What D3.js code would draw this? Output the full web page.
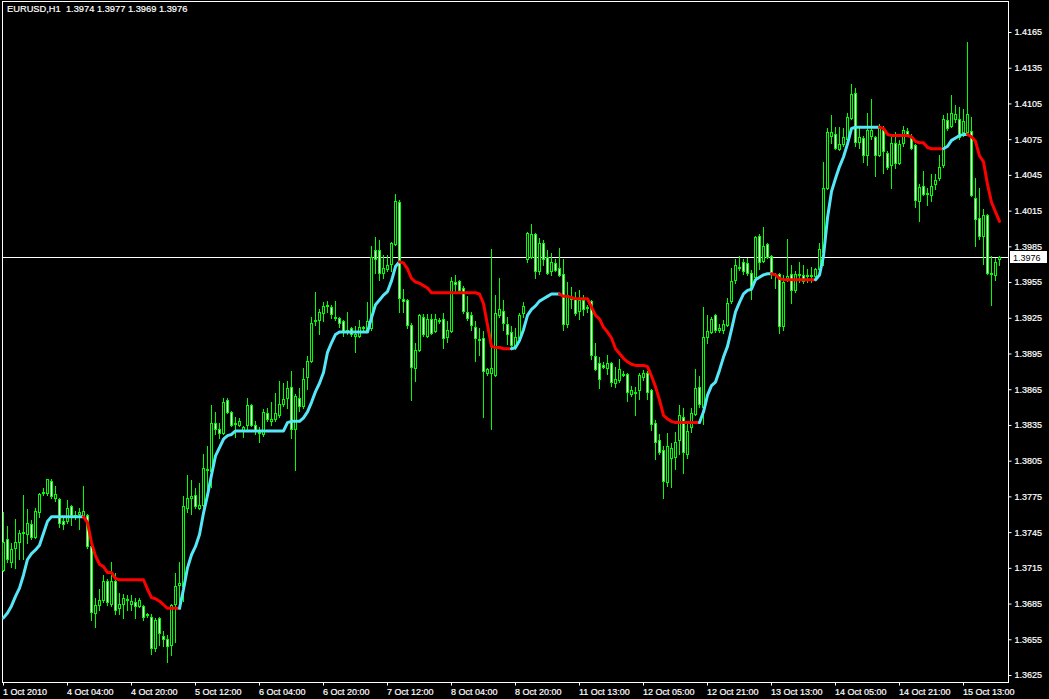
<!DOCTYPE html>
<html><head><meta charset="utf-8">
<script src="https://cdn.jsdelivr.net/npm/d3@7/dist/d3.min.js"></script>
<style>html,body{margin:0;padding:0;background:#000;overflow:hidden}</style>
</head><body>
<svg id="c" width="1049" height="699"></svg>
<script>
const titleText = "EURUSD,H1  1.3974 1.3977 1.3969 1.3976";
const bidPrice = 1.3976;

const opens = [
1.3713,1.3739,1.3720,1.3732,1.3737,1.3744,1.3743,1.3752,1.3741,1.3762,
1.3778,1.3778,1.3788,1.3774,1.3773,1.3754,1.3754,1.3767,1.3759,1.3760,
1.3759,1.3759,1.3733,1.3677,1.3684,1.3688,1.3704,1.3685,1.3704,1.3681,
1.3685,1.3689,1.3685,1.3686,1.3683,1.3683,1.3676,1.3674,1.3648,1.3673,
1.3658,1.3655,1.3650,1.3685,1.3701,1.3700,1.3765,1.3774,1.3776,1.3765,
1.3768,1.3798,1.3796,1.3837,1.3832,1.3828,1.3856,1.3846,1.3837,1.3835,
1.3831,1.3835,1.3852,1.3835,1.3829,1.3827,1.3845,1.3838,1.3840,1.3843,
1.3853,1.3858,1.3867,1.3832,1.3858,1.3851,1.3875,1.3889,1.3922,1.3923,
1.3929,1.3935,1.3934,1.3926,1.3925,1.3922,1.3914,1.3916,1.3910,1.3910,
1.3917,1.3915,1.3916,1.3982,1.3982,1.3963,1.3966,1.3970,1.3987,1.4022,
1.3941,1.3940,1.3919,1.3883,1.3898,1.3926,1.3910,1.3924,1.3914,1.3923,
1.3924,1.3909,1.3914,1.3955,1.3956,1.3950,1.3930,1.3927,1.3917,1.3907,
1.3908,1.3879,1.3879,1.3877,1.3927,1.3931,1.3920,1.3913,1.3901,1.3908,
1.3929,1.3974,1.3976,1.3995,1.3964,1.3988,1.3976,1.3964,1.3971,1.3967,
1.3962,1.3920,1.3942,1.3941,1.3931,1.3940,1.3934,1.3939,1.3893,1.3887,
1.3885,1.3883,1.3887,1.3870,1.3873,1.3878,1.3878,1.3861,1.3863,1.3864,
1.3875,1.3879,1.3864,1.3837,1.3822,1.3814,1.3787,1.3807,1.3808,1.3822,
1.3842,1.3811,1.3833,1.3844,1.3867,1.3850,1.3909,1.3913,1.3927,1.3915,
1.3915,1.3919,1.3939,1.3957,1.3967,1.3972,1.3971,1.3963,1.3959,1.3994,
1.3973,1.3987,1.3977,1.3962,1.3962,1.3918,1.3958,1.3962,1.3948,1.3961,
1.3961,1.3960,1.3961,1.3960,1.3966,1.3980,1.4034,1.4078,1.4079,1.4067,
1.4071,1.4075,1.4093,1.4114,1.4073,1.4076,1.4062,1.4078,1.4077,1.4062,
1.4083,1.4063,1.4053,1.4072,1.4055,1.4072,1.4082,1.4078,1.4070,1.4023,
1.4036,1.4030,1.4028,1.4037,1.4042,1.4053,1.4091,1.4086,1.4092,1.4092,
1.4081,1.4081,1.4082,1.4026,1.4009,1.3994,1.4011,1.3963,1.3961,1.3974];

const highs = [
1.3762,1.3750,1.3736,1.3756,1.3747,1.3776,1.3764,1.3755,1.3765,1.3778,
1.3782,1.3790,1.3790,1.3784,1.3774,1.3758,1.3772,1.3768,1.3763,1.3765,
1.3784,1.3760,1.3734,1.3690,1.3697,1.3709,1.3706,1.3720,1.3711,1.3694,
1.3693,1.3692,1.3692,1.3690,1.3690,1.3684,1.3677,1.3676,1.3673,1.3674,
1.3662,1.3659,1.3685,1.3711,1.3720,1.3775,1.3793,1.3789,1.3782,1.3786,
1.3811,1.3817,1.3852,1.3846,1.3837,1.3858,1.3858,1.3847,1.3842,1.3841,
1.3834,1.3858,1.3853,1.3838,1.3833,1.3848,1.3849,1.3854,1.3862,1.3872,
1.3870,1.3872,1.3880,1.3861,1.3866,1.3883,1.3893,1.3926,1.3947,1.3932,
1.3938,1.3939,1.3936,1.3939,1.3926,1.3923,1.3930,1.3917,1.3918,1.3923,
1.3918,1.3938,1.3985,1.3993,1.3990,1.3978,1.3978,1.3989,1.4029,1.4024,
1.3949,1.3941,1.3921,1.3904,1.3928,1.3928,1.3928,1.3928,1.3928,1.3925,
1.3929,1.3922,1.3959,1.3961,1.3957,1.3952,1.3943,1.3930,1.3922,1.3916,
1.3914,1.3883,1.3983,1.3944,1.3958,1.3940,1.3926,1.3918,1.3916,1.3929,
1.3938,1.3997,1.4004,1.3996,1.3992,1.3990,1.3982,1.3979,1.3974,1.3984,
1.3974,1.3955,1.3951,1.3947,1.3948,1.3944,1.3936,1.3940,1.3904,1.3892,
1.3888,1.3894,1.3888,1.3884,1.3890,1.3880,1.3879,1.3868,1.3867,1.3879,
1.3881,1.3880,1.3865,1.3839,1.3827,1.3817,1.3828,1.3820,1.3829,1.3852,
1.3849,1.3836,1.3849,1.3882,1.3876,1.3934,1.3927,1.3926,1.3928,1.3920,
1.3923,1.3942,1.3967,1.3974,1.3977,1.3974,1.3975,1.3965,1.3994,1.3995,
1.4001,1.3988,1.3978,1.3963,1.3963,1.3961,1.3991,1.3969,1.3964,1.3972,
1.3969,1.3966,1.3968,1.3967,1.3988,1.4056,1.4084,1.4095,1.4085,1.4085,
1.4084,1.4097,1.4121,1.4118,1.4084,1.4078,1.4097,1.4109,1.4078,1.4088,
1.4086,1.4065,1.4078,1.4081,1.4074,1.4086,1.4084,1.4079,1.4071,1.4037,
1.4048,1.4034,1.4046,1.4046,1.4062,1.4095,1.4097,1.4112,1.4104,1.4102,
1.4100,1.4157,1.4094,1.4042,1.4034,1.4016,1.4012,1.3977,1.3975,1.3977];

const lows = [
1.3712,1.3720,1.3716,1.3715,1.3722,1.3722,1.3736,1.3739,1.3740,1.3758,
1.3776,1.3776,1.3774,1.3771,1.3749,1.3748,1.3753,1.3751,1.3756,1.3748,
1.3758,1.3732,1.3671,1.3665,1.3680,1.3686,1.3684,1.3683,1.3676,1.3676,
1.3673,1.3680,1.3680,1.3673,1.3682,1.3671,1.3674,1.3643,1.3645,1.3650,
1.3649,1.3636,1.3642,1.3653,1.3683,1.3687,1.3762,1.3760,1.3765,1.3764,
1.3767,1.3776,1.3783,1.3827,1.3824,1.3827,1.3845,1.3834,1.3825,1.3834,
1.3825,1.3831,1.3834,1.3827,1.3821,1.3826,1.3838,1.3835,1.3838,1.3842,
1.3851,1.3849,1.3824,1.3797,1.3847,1.3849,1.3865,1.3888,1.3919,1.3911,
1.3922,1.3930,1.3925,1.3923,1.3917,1.3910,1.3911,1.3910,1.3896,1.3909,
1.3914,1.3914,1.3915,1.3963,1.3957,1.3958,1.3964,1.3964,1.3986,1.3930,
1.3930,1.3916,1.3856,1.3872,1.3897,1.3910,1.3909,1.3911,1.3913,1.3921,
1.3900,1.3905,1.3913,1.3947,1.3947,1.3929,1.3923,1.3915,1.3889,1.3894,
1.3842,1.3877,1.3832,1.3876,1.3926,1.3915,1.3903,1.3899,1.3899,1.3906,
1.3926,1.3972,1.3975,1.3958,1.3962,1.3969,1.3962,1.3961,1.3964,1.3960,
1.3915,1.3917,1.3933,1.3927,1.3924,1.3927,1.3930,1.3890,1.3881,1.3866,
1.3883,1.3878,1.3868,1.3867,1.3871,1.3876,1.3855,1.3859,1.3843,1.3857,
1.3873,1.3857,1.3831,1.3806,1.3811,1.3774,1.3784,1.3783,1.3798,1.3811,
1.3795,1.3807,1.3829,1.3843,1.3850,1.3836,1.3904,1.3912,1.3913,1.3913,
1.3912,1.3918,1.3937,1.3954,1.3965,1.3962,1.3961,1.3941,1.3958,1.3966,
1.3972,1.3975,1.3958,1.3950,1.3912,1.3915,1.3956,1.3937,1.3947,1.3955,
1.3954,1.3955,1.3955,1.3958,1.3965,1.3969,1.4033,1.4072,1.4067,1.4066,
1.4069,1.4069,1.4092,1.4069,1.4068,1.4056,1.4053,1.4075,1.4044,1.4061,
1.4047,1.4050,1.4034,1.4051,1.4054,1.4069,1.4078,1.4067,1.4018,1.4006,
1.4028,1.4020,1.4023,1.4033,1.4041,1.4052,1.4083,1.4085,1.4089,1.4075,
1.4078,1.4080,1.4027,1.3985,1.3991,1.3970,1.3962,1.3936,1.3957,1.3969];

const closes = [
1.3737,1.3722,1.3731,1.3737,1.3744,1.3745,1.3753,1.3741,1.3763,1.3777,
1.3779,1.3790,1.3775,1.3777,1.3753,1.3752,1.3765,1.3759,1.3758,1.3762,
1.3763,1.3733,1.3678,1.3684,1.3688,1.3704,1.3686,1.3704,1.3680,1.3685,
1.3690,1.3688,1.3687,1.3683,1.3688,1.3674,1.3675,1.3648,1.3671,1.3660,
1.3655,1.3649,1.3684,1.3700,1.3702,1.3767,1.3774,1.3775,1.3767,1.3768,
1.3799,1.3797,1.3837,1.3832,1.3828,1.3854,1.3846,1.3835,1.3836,1.3838,
1.3833,1.3852,1.3835,1.3831,1.3828,1.3846,1.3840,1.3840,1.3845,1.3853,
1.3857,1.3866,1.3832,1.3859,1.3851,1.3874,1.3889,1.3921,1.3923,1.3930,
1.3935,1.3936,1.3928,1.3925,1.3921,1.3914,1.3915,1.3911,1.3911,1.3917,
1.3916,1.3922,1.3976,1.3974,1.3963,1.3967,1.3969,1.3988,1.4023,1.3942,
1.3939,1.3919,1.3884,1.3898,1.3927,1.3911,1.3924,1.3912,1.3924,1.3922,
1.3908,1.3915,1.3956,1.3953,1.3948,1.3931,1.3925,1.3919,1.3908,1.3906,
1.3880,1.3882,1.3883,1.3929,1.3932,1.3921,1.3911,1.3902,1.3909,1.3927,
1.3935,1.3996,1.3995,1.3964,1.3988,1.3974,1.3963,1.3972,1.3965,1.3961,
1.3920,1.3944,1.3941,1.3929,1.3940,1.3932,1.3933,1.3894,1.3882,1.3874,
1.3884,1.3887,1.3871,1.3874,1.3882,1.3877,1.3863,1.3864,1.3862,1.3877,
1.3879,1.3863,1.3836,1.3821,1.3812,1.3788,1.3817,1.3816,1.3821,1.3843,
1.3812,1.3830,1.3845,1.3866,1.3853,1.3909,1.3914,1.3924,1.3915,1.3916,
1.3920,1.3937,1.3956,1.3969,1.3968,1.3964,1.3963,1.3950,1.3993,1.3972,
1.3985,1.3976,1.3962,1.3961,1.3918,1.3955,1.3960,1.3948,1.3962,1.3962,
1.3956,1.3961,1.3960,1.3966,1.3983,1.4034,1.4081,1.4081,1.4068,1.4071,
1.4077,1.4094,1.4113,1.4073,1.4077,1.4062,1.4083,1.4083,1.4062,1.4084,
1.4065,1.4052,1.4072,1.4055,1.4071,1.4083,1.4079,1.4068,1.4024,1.4035,
1.4029,1.4029,1.4036,1.4041,1.4052,1.4092,1.4084,1.4097,1.4096,1.4077,
1.4090,1.4096,1.4028,1.4008,1.3994,1.4011,1.3963,1.3962,1.3972,1.3976];

const trendValues = [
1.3673,1.3677,1.3683,1.3691,1.3698,1.3709,1.3722,1.3727,1.3730,1.3734,
1.3744,1.3754,1.3758,1.3758,1.3758,1.3758,1.3758,1.3758,1.3758,1.3758,
1.3758,1.3753,1.3736,1.3725,1.3718,1.3716,1.3711,1.3711,1.3706,1.3705,
1.3705,1.3705,1.3705,1.3705,1.3705,1.3705,1.3697,1.3690,1.3689,1.3687,
1.3684,1.3681,1.3681,1.3681,1.3681,1.3697,1.3715,1.3726,1.3733,1.3743,
1.3761,1.3776,1.3793,1.3809,1.3816,1.3823,1.3826,1.3827,1.3830,1.3830,
1.3830,1.3830,1.3830,1.3830,1.3830,1.3830,1.3830,1.3830,1.3830,1.3830,
1.3830,1.3837,1.3838,1.3838,1.3838,1.3841,1.3846,1.3854,1.3863,1.3870,
1.3879,1.3896,1.3904,1.3911,1.3913,1.3913,1.3913,1.3913,1.3913,1.3913,
1.3913,1.3913,1.3925,1.3936,1.3940,1.3944,1.3947,1.3956,1.3968,1.3972,
1.3971,1.3966,1.3958,1.3955,1.3954,1.3952,1.3950,1.3946,1.3946,1.3946,
1.3946,1.3946,1.3946,1.3946,1.3946,1.3946,1.3946,1.3946,1.3946,1.3945,
1.3937,1.3919,1.3901,1.3900,1.3900,1.3899,1.3899,1.3899,1.3900,1.3906,
1.3915,1.3927,1.3932,1.3935,1.3939,1.3941,1.3943,1.3945,1.3945,1.3945,
1.3943,1.3943,1.3942,1.3941,1.3941,1.3941,1.3941,1.3934,1.3927,1.3924,
1.3917,1.3913,1.3908,1.3899,1.3895,1.3891,1.3888,1.3886,1.3885,1.3885,
1.3885,1.3884,1.3876,1.3867,1.3856,1.3843,1.3840,1.3838,1.3837,1.3837,
1.3837,1.3837,1.3837,1.3837,1.3837,1.3846,1.3860,1.3868,1.3871,1.3881,
1.3892,1.3901,1.3915,1.3930,1.3938,1.3945,1.3948,1.3949,1.3957,1.3959,
1.3961,1.3962,1.3962,1.3961,1.3958,1.3957,1.3957,1.3957,1.3957,1.3957,
1.3957,1.3957,1.3957,1.3957,1.3961,1.3977,1.4009,1.4031,1.4042,1.4052,
1.4060,1.4071,1.4084,1.4085,1.4085,1.4085,1.4085,1.4085,1.4085,1.4085,
1.4084,1.4079,1.4078,1.4078,1.4078,1.4078,1.4078,1.4077,1.4073,1.4072,
1.4072,1.4068,1.4067,1.4067,1.4067,1.4067,1.4069,1.4074,1.4076,1.4078,
1.4079,1.4079,1.4077,1.4073,1.4061,1.4056,1.4037,1.4022,1.4014,1.4006];

const timeTickBars = [0,16,32,48,64,80,96,112,128,144,160,176,192,208,224,240];
const timeTickLabels = ["1 Oct 2010","4 Oct 04:00","4 Oct 20:00","5 Oct 12:00","6 Oct 04:00",
  "6 Oct 20:00","7 Oct 12:00","8 Oct 04:00","8 Oct 20:00","11 Oct 13:00","12 Oct 05:00",
  "12 Oct 21:00","13 Oct 13:00","14 Oct 05:00","14 Oct 21:00","15 Oct 13:00"];
const priceTicks = [1.4165,1.4135,1.4105,1.4075,1.4045,1.4015,1.3985,1.3955,1.3925,1.3895,
  1.3865,1.3835,1.3805,1.3775,1.3745,1.3715,1.3685,1.3655,1.3625];

const W = 1049, H = 699;
const FRAME = {left: 2, top: 1, right: 1008, bottom: 682};
const UP = "#55e6f8", DOWN = "#ff0000", CANDLE = "#00ff00";
const FONT = "'Liberation Sans', Arial, sans-serif";

const svg = d3.select("#c");
svg.append("rect").attr("width", W).attr("height", H).attr("fill", "#000");

const n = closes.length;
const x = d3.scaleLinear().domain([0, n - 1]).range([3, 999]);
const y = d3.scaleLinear().domain([1.3625, 1.4165]).range([675, 32]);

// chart frame
svg.append("rect")
  .attr("x", FRAME.left + 0.5).attr("y", FRAME.top + 0.5)
  .attr("width", FRAME.right - FRAME.left).attr("height", FRAME.bottom - FRAME.top)
  .attr("fill", "none").attr("stroke", "#fff").attr("stroke-width", 1);

// bid line
const by = Math.round(y(bidPrice)) + 0.5;
svg.append("line").attr("x1", FRAME.left).attr("x2", FRAME.right).attr("y1", by).attr("y2", by)
  .attr("stroke", "#fff").attr("stroke-width", 1);

// candles
const bars = d3.range(n).map(i => ({i, o: opens[i], h: highs[i], l: lows[i], c: closes[i]}));
const cg = svg.append("g");
cg.selectAll("line.wick").data(bars).join("line")
  .attr("class", "wick")
  .attr("x1", d => Math.round(x(d.i)) + 0.5).attr("x2", d => Math.round(x(d.i)) + 0.5)
  .attr("y1", d => Math.round(y(d.h))).attr("y2", d => Math.round(y(d.l)) + 1)
  .attr("stroke", CANDLE).attr("stroke-width", 1);
cg.selectAll("rect.body").data(bars).join("rect")
  .attr("class", "body")
  .attr("x", d => Math.round(x(d.i)) - 0.5)
  .attr("width", 2)
  .attr("y", d => Math.round(y(Math.max(d.o, d.c))) + 0.5)
  .attr("height", d => Math.max(0, Math.round(y(Math.min(d.o, d.c))) - Math.round(y(Math.max(d.o, d.c)))))
  .attr("fill", d => d.c < d.o ? "#fff" : "#000")
  .attr("stroke", CANDLE).attr("stroke-width", 1);

// trend line with up/down colouring
let dir = 1;
const dirs = trendValues.map((v, i) => {
  if (i > 0) { const dv = v - trendValues[i - 1]; if (dv > 1e-9) dir = 1; else if (dv < -1e-9) dir = -1; }
  return dir;
});
const runs = [];
for (let i = 1; i < n; i++) {
  const d = dirs[i];
  if (runs.length && runs[runs.length - 1].d === d) runs[runs.length - 1].pts.push(i);
  else runs.push({d, pts: [i - 1, i]});
}
const line = d3.line().x(i => x(i) + 0.5).y(i => y(trendValues[i]));
svg.append("g").selectAll("path").data(runs).join("path")
  .attr("d", r => line(r.pts))
  .attr("fill", "none")
  .attr("stroke", r => r.d > 0 ? UP : DOWN)
  .attr("stroke-width", 3)
  .attr("stroke-linejoin", "round").attr("stroke-linecap", "round");

// price axis
const ya = svg.append("g").attr("transform", `translate(${FRAME.right + 0.5},0)`)
  .call(d3.axisRight(y).tickValues(priceTicks).tickFormat(d3.format(".4f")).tickSize(3).tickPadding(3));
ya.select(".domain").remove();
ya.selectAll("line").attr("stroke", "#fff");
ya.selectAll("text").attr("fill", "#fff").attr("stroke", "#fff").attr("stroke-width", 0.2)
  .style("font-family", FONT).style("font-size", "9px");

// time axis
const xa = svg.append("g").attr("transform", `translate(0,${FRAME.bottom + 0.5})`)
  .call(d3.axisBottom(x).tickValues(timeTickBars).tickFormat((d, i) => timeTickLabels[i]).tickSize(3).tickPadding(3));
xa.select(".domain").remove();
xa.selectAll("line").attr("stroke", "#fff");
xa.selectAll("text").attr("fill", "#fff").attr("stroke", "#fff").attr("stroke-width", 0.2)
  .attr("text-anchor", "start").attr("x", -0.5)
  .style("font-family", FONT).style("font-size", "9px");

// bid label
const bg = svg.append("g");
bg.append("rect").attr("x", 1010).attr("y", by - 6.5).attr("width", 37).attr("height", 12).attr("fill", "#fff");
bg.append("text").attr("x", 1013).attr("y", by).attr("dy", "0.35em")
  .attr("fill", "#000").style("font-family", FONT).style("font-size", "9px")
  .text(d3.format(".4f")(bidPrice));

// title
svg.append("text").attr("x", 7).attr("y", 12).attr("fill", "#fff")
  .attr("stroke", "#fff").attr("stroke-width", 0.2)
  .style("white-space", "pre")
  .style("font-family", FONT).style("font-size", "9.3px").text(titleText);
</script>
</body></html>
